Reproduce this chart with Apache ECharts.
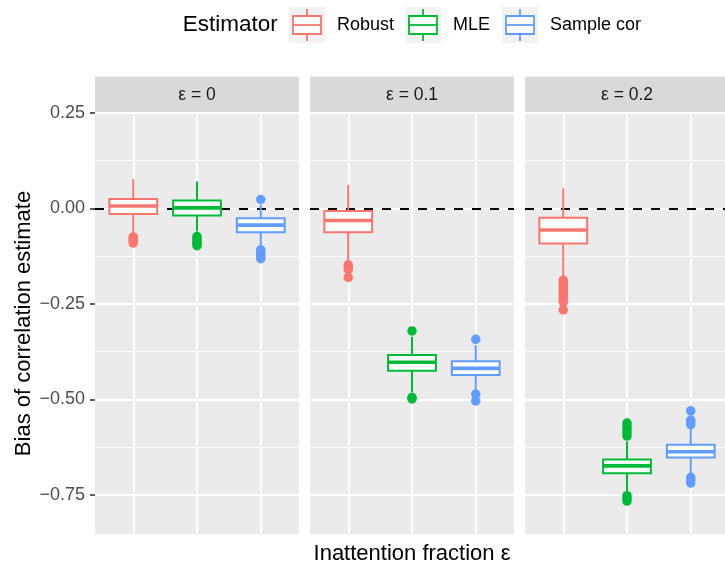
<!DOCTYPE html>
<html><head><meta charset="utf-8">
<script src="https://cdn.jsdelivr.net/npm/echarts@6/dist/echarts.min.js"></script>
<style>html,body{margin:0;padding:0;background:#fff}#c{width:725px;height:564px}</style>
</head><body><div id="c"></div>
<script>
const estimators = ['Robust', 'MLE', 'Sample cor'];
const facets = ['ε = 0', 'ε = 0.1', 'ε = 0.2'];
const yTicks = [-0.75, -0.5, -0.25, 0, 0.25];
const yMinorTicks = [-0.625, -0.375, -0.125, 0.125];
// [lower whisker, Q1, median, Q3, upper whisker] for Robust, MLE, Sample cor
const boxEps0 = [
  [-0.065, -0.015, 0.006, 0.024, 0.076],
  [-0.061, -0.019, 0.001, 0.020, 0.070],
  [-0.099, -0.063, -0.044, -0.026, 0.009]
];
const boxEps01 = [
  [-0.140, -0.063, -0.032, -0.007, 0.061],
  [-0.482, -0.425, -0.403, -0.384, -0.336],
  [-0.475, -0.436, -0.419, -0.400, -0.358]
];
const boxEps02 = [
  [-0.183, -0.092, -0.057, -0.025, 0.052],
  [-0.741, -0.693, -0.674, -0.657, -0.610],
  [-0.693, -0.652, -0.637, -0.619, -0.576]
];
const outEps0 = [
  [-0.075, -0.079, -0.083, -0.087, -0.091],
  [-0.074, -0.078, -0.083, -0.088, -0.093, -0.098],
  [0.023, -0.109, -0.114, -0.120, -0.126, -0.132]
];
const outEps01 = [
  [-0.148, -0.154, -0.160, -0.181],
  [-0.321, -0.495, -0.499],
  [-0.343, -0.486, -0.504]
];
const outEps02 = [
  [-0.188, -0.195, -0.202, -0.209, -0.216, -0.223, -0.230, -0.238, -0.245, -0.266],
  [-0.562, -0.570, -0.578, -0.587, -0.596, -0.752, -0.759, -0.766],
  [-0.530, -0.554, -0.560, -0.566, -0.704, -0.711, -0.719]
];

const boxes = [boxEps0, boxEps01, boxEps02];
const outliers = [outEps0, outEps01, outEps02];
const colors = ['#F8766D', '#00BA38', '#619CFF'];
const FONT = '"Liberation Sans", Arial, Helvetica, sans-serif';

const chart = echarts.init(document.getElementById('c'), null, { renderer: 'canvas' });

const panelLeft = [95, 310, 525];
const panelW = 204, panelTop = 112.7, panelH = 421.6;
const stripTop = 76.7, stripH = 36;

const fmt = v => (v < 0 ? '\u2212' : '') + Math.abs(v).toFixed(2);

const grids = [], xAxes = [], yAxes = [], series = [], graphics = [];

facets.forEach((f, g) => {
  grids.push({ left: panelLeft[g], top: panelTop, width: panelW, height: panelH,
    containLabel: false, outerBoundsMode: 'none',
    show: true, backgroundColor: '#EBEBEB', borderWidth: 0 });
  xAxes.push({ gridIndex: g, type: 'value', min: 0.4, max: 3.6,
    axisLine: { show: false },
    axisTick: { show: false, customValues: [1, 2, 3] },
    axisLabel: { show: false, customValues: [1, 2, 3] },
    splitLine: { show: true, lineStyle: { color: '#FFFFFF', width: 1.8 } },
    name: g === 1 ? 'Inattention fraction ε' : '',
    nameLocation: 'middle', nameGap: 9,
    nameTextStyle: { fontFamily: FONT, fontSize: 22, color: '#000' }
  });
  // minor y grid
  yAxes.push({ gridIndex: g, type: 'value', min: -0.853, max: 0.25, position: 'left',
    axisLine: { show: false },
    axisTick: { show: false, customValues: yMinorTicks },
    axisLabel: { show: false, customValues: yMinorTicks },
    splitLine: { show: true, lineStyle: { color: '#FFFFFF', width: 0.9 } }
  });
  // major y grid
  yAxes.push({ gridIndex: g, type: 'value', min: -0.853, max: 0.25, position: 'left',
    axisLine: { show: false },
    axisTick: { show: g === 0, customValues: yTicks, length: 5,
      lineStyle: { color: '#333333', width: 1.6 } },
    axisLabel: { show: g === 0, customValues: yTicks, formatter: fmt, margin: 10,
      fontFamily: FONT, fontSize: 18, color: '#4D4D4D' },
    splitLine: { show: true, lineStyle: { color: '#FFFFFF', width: 1.8 } },
    name: g === 0 ? 'Bias of correlation estimate' : '',
    nameLocation: 'middle', nameGap: 60,
    nameTextStyle: { fontFamily: FONT, fontSize: 22, color: '#000' }
  });
  const yIdx = g * 2 + 1;
  // zero reference line
  series.push({ type: 'line', xAxisIndex: g, yAxisIndex: yIdx, data: [], silent: true,
    markLine: { silent: true, symbol: 'none', z: 1, animation: false,
      label: { show: false },
      lineStyle: { color: '#000', type: [9, 9], width: 2 },
      data: [{ yAxis: 0 }] } });
  // boxes
  series.push({
    type: 'custom', xAxisIndex: g, yAxisIndex: yIdx, z: 3,
    encode: { x: 0, y: [1, 2, 3, 4, 5] },
    data: estimators.map((e, i) => [i + 1].concat(boxes[g][i])),
    renderItem: function (params, api) {
      const x = api.value(0);
      const lo = api.coord([x, api.value(1)]);
      const q1 = api.coord([x, api.value(2)]);
      const md = api.coord([x, api.value(3)]);
      const q3 = api.coord([x, api.value(4)]);
      const hi = api.coord([x, api.value(5)]);
      const w = api.size([0.75, 0])[0];
      const col = colors[params.dataIndex];
      const lw = 2;
      return { type: 'group', children: [
        { type: 'line', shape: { x1: lo[0], y1: lo[1], x2: q1[0], y2: q1[1] }, style: { stroke: col, lineWidth: lw } },
        { type: 'line', shape: { x1: hi[0], y1: hi[1], x2: q3[0], y2: q3[1] }, style: { stroke: col, lineWidth: lw } },
        { type: 'rect', shape: { x: q3[0] - w / 2, y: q3[1], width: w, height: q1[1] - q3[1] }, style: { fill: '#FFFFFF', stroke: col, lineWidth: lw } },
        { type: 'line', shape: { x1: md[0] - w / 2, y1: md[1], x2: md[0] + w / 2, y2: md[1] }, style: { stroke: col, lineWidth: 3.6 } }
      ] };
    }
  });
  // outliers
  estimators.forEach((e, i) => {
    series.push({ type: 'scatter', xAxisIndex: g, yAxisIndex: yIdx, z: 4,
      symbol: 'circle', symbolSize: 9.5,
      itemStyle: { color: colors[i], opacity: 1 },
      data: outliers[g][i].map(v => [i + 1, v]) });
  });
  // strip
  graphics.push({ type: 'rect', left: panelLeft[g], top: stripTop,
    shape: { width: panelW, height: stripH }, style: { fill: '#D9D9D9' }, silent: true });
  graphics.push({ type: 'text', x: panelLeft[g] + panelW / 2, y: stripTop + stripH / 2,
    style: { text: f, fontFamily: FONT, fontSize: 17.5, fill: '#1A1A1A', align: 'center', verticalAlign: 'middle' } });
});

// legend
graphics.push({ type: 'text', x: 182.7, y: 25,
  style: { text: 'Estimator', fontFamily: FONT, fontSize: 22.5, fill: '#000', align: 'left', verticalAlign: 'middle' } });
const keyX = [289, 405, 502];
estimators.forEach((e, i) => {
  const kx = keyX[i], ky = 7, c = colors[i];
  graphics.push({ type: 'rect', shape: { x: kx, y: ky, width: 36, height: 36 }, style: { fill: '#F2F2F2' } });
  graphics.push({ type: 'line', shape: { x1: kx + 18, y1: ky + 2, x2: kx + 18, y2: ky + 34 }, style: { stroke: c, lineWidth: 1.8 } });
  graphics.push({ type: 'rect', shape: { x: kx + 4, y: ky + 9, width: 28, height: 18 }, style: { fill: '#FFFFFF', stroke: c, lineWidth: 1.8 } });
  graphics.push({ type: 'line', shape: { x1: kx + 4, y1: ky + 18, x2: kx + 32, y2: ky + 18 }, style: { stroke: c, lineWidth: 1.8 } });
  graphics.push({ type: 'text', x: kx + 48, y: 25,
    style: { text: e, fontFamily: FONT, fontSize: 18, fill: '#000', align: 'left', verticalAlign: 'middle' } });
});

chart.setOption({
  animation: false,
  backgroundColor: '#FFFFFF',
  grid: grids, xAxis: xAxes, yAxis: yAxes, series: series,
  graphic: graphics
});
</script></body></html>
